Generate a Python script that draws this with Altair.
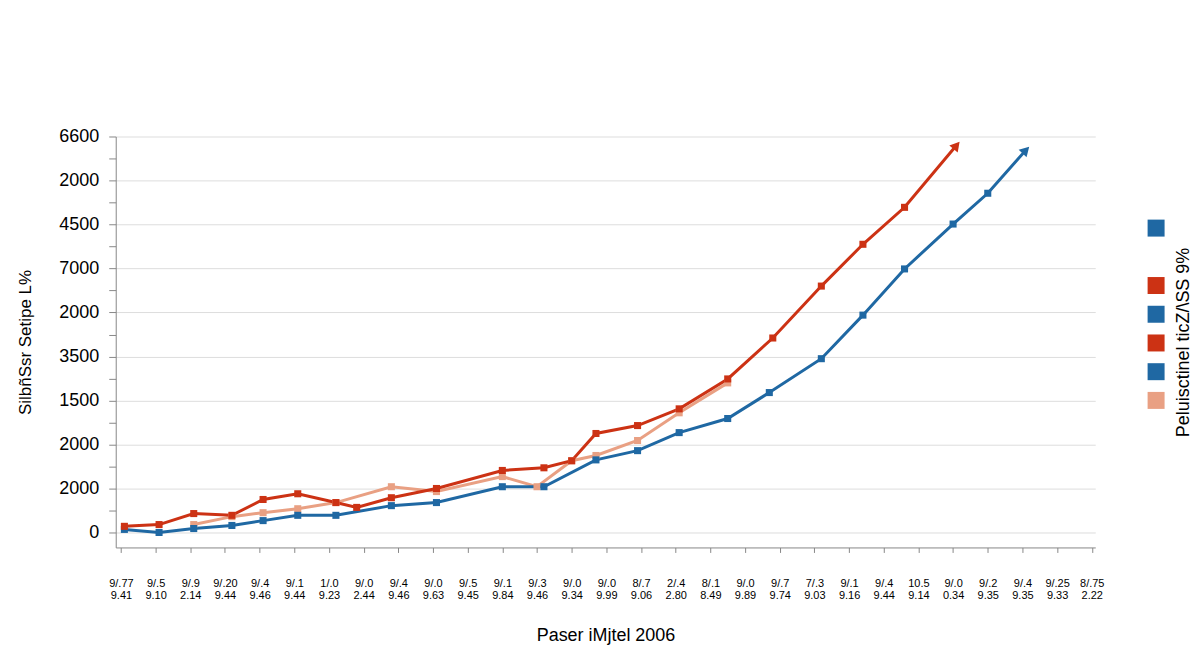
import altair as alt
import pandas as pd

# ---------------- data ----------------
series_names = ["Serie A", "Serie B", "Serie C"]          # blue, salmon, red
series_colors = ["#1f68a3", "#e9a083", "#cc3214"]

blue_x = [0.1, 1.1, 2.1, 3.2, 4.1, 5.1, 6.2, 7.8, 9.1, 11.0, 12.2, 13.7, 14.9, 16.1, 17.5, 18.7, 20.2, 21.4, 22.6, 24.0, 25.0, 26.1]
blue_y = [70, 0, 90, 160, 270, 390, 390, 610, 680, 1040, 1040, 1650, 1860, 2270, 2590, 3180, 3950, 4940, 5990, 7010, 7710, 8690]

red_x = [0.1, 1.1, 2.1, 3.2, 4.1, 5.1, 6.2, 6.8, 7.8, 9.1, 11.0, 12.2, 13.0, 13.7, 14.9, 16.1, 17.5, 18.8, 20.2, 21.4, 22.6, 24.1]
red_y = [140, 180, 430, 390, 750, 880, 680, 570, 790, 1000, 1410, 1470, 1630, 2250, 2430, 2810, 3490, 4420, 5600, 6550, 7390, 8800]

salmon_x = [2.1, 3.2, 4.1, 5.1, 6.2, 7.8, 9.1, 11.0, 12.0, 13.0, 13.7, 14.9, 16.1, 17.5]
salmon_y = [180, 360, 450, 540, 680, 1040, 930, 1270, 1040, 1630, 1750, 2090, 2720, 3400]

arrow_angle = {"Serie A": 44, "Serie C": 40}

y_tick_labels = ["0", "2000", "2000", "1500", "3500", "2000", "7000", "4500", "2000", "6600"]

x_top = ["9/.77", "9/.5", "9/.9", "9/.20", "9/.4", "9/.1", "1/.0", "9/.0", "9/.4", "9/.0",
         "9/.5", "9/.1", "9/.3", "9/.0", "9/.0", "8/.7", "2/.4", "8/.1", "9/.0", "9/.7",
         "7/.3", "9/.1", "9/.4", "10.5", "9/.0", "9/.2", "9/.4", "9/.25", "8/.75"]
x_bot = ["9.41", "9.10", "2.14", "9.44", "9.46", "9.44", "9.23", "2.44", "9.46", "9.63",
         "9.45", "9.84", "9.46", "9.34", "9.99", "9.06", "2.80", "8.49", "9.89", "9.74",
         "9.03", "9.16", "9.44", "9.14", "0.34", "9.35", "9.35", "9.33", "2.22"]

legend_series = ["Serie A", "Serie C", "Serie A", "Serie C", "Serie A", "Serie B"]
legend_slot = [0, 2, 3, 4, 5, 6]

y_title = "SilbñSsr Setipe L%"
x_title = "Paser iMjtel 2006"
legend_title = "Peluisctinel ticZ/\\SS 9%"

# ---------------- frames ----------------
rows = []
for name, xs, ys in [("Serie B", salmon_x, salmon_y), ("Serie A", blue_x, blue_y), ("Serie C", red_x, red_y)]:
    n = len(xs)
    for i, (xv, yv) in enumerate(zip(xs, ys)):
        is_arrow = (i == n - 1) and name in arrow_angle
        rows.append({"series": name, "x": xv, "y": yv, "order": i,
                     "arrow": is_arrow, "angle": arrow_angle.get(name, 0)})
df = pd.DataFrame(rows)

legend_df = pd.DataFrame({"series": legend_series, "slot": legend_slot})

FONT = "Liberation Sans"
color_scale = alt.Scale(domain=series_names, range=series_colors)

y_expr = ("datum.value % 1000 == 0 ? [" + ",".join(f"'{s}'" for s in y_tick_labels)
          + "][round(datum.value/1000)] : ''")
x_expr = ("[[" + ",".join(f"'{s}'" for s in x_top) + "][datum.value], ["
          + ",".join(f"'{s}'" for s in x_bot) + "][datum.value]]")

x_axis = alt.Axis(values=list(range(len(x_top))), labelExpr=x_expr, grid=False,
                  title=x_title, titleFontSize=18, titleFontWeight="normal",
                  titlePadding=26, labelFontSize=11, labelLineHeight=12,
                  labelPadding=25, tickSize=5, labelOverlap=False, labelFlush=False,
                  labelAngle=0, labelBound=False)
y_axis = alt.Axis(values=[i * 500 for i in range(19)], labelExpr=y_expr,
                  gridOpacity={"condition": {"test": "datum.value % 1000 != 0", "value": 0}, "value": 1},
                  title=y_title, titleFontSize=17, titleFontWeight="normal",
                  titlePadding=24, labelFontSize=18, labelPadding=10, tickSize=7,
                  labelOverlap=False, labelFlush=False)
x_scale = alt.Scale(domain=[-0.15, 28.1], nice=False, zero=False)
y_scale = alt.Scale(domain=[-340, 9000], nice=False, zero=False)

x_enc = alt.X("x:Q", scale=x_scale, axis=x_axis)
y_enc = alt.Y("y:Q", scale=y_scale, axis=y_axis)
col = alt.Color("series:N", scale=color_scale, legend=None)

base = alt.Chart(df)
lines = base.mark_line(strokeWidth=3).encode(x=x_enc, y=y_enc, color=col, detail="series:N",
                                             order="order:Q")
squares = base.transform_filter("!datum.arrow").mark_square(size=50, opacity=1).encode(
    x=x_enc, y=y_enc, color=col)
arrows = base.transform_filter("datum.arrow").mark_point(
    shape="triangle-up", filled=True, size=120, opacity=1).encode(
    x=x_enc, y=y_enc, color=col, angle=alt.Angle("angle:Q", scale=None))

main = alt.layer(lines, squares, arrows).properties(
    width=982, height=412, view=alt.ViewBackground(strokeOpacity=0, strokeWidth=0))

legend = alt.Chart(legend_df).mark_square(size=290, opacity=1).encode(
    y=alt.Y("slot:Q", scale=alt.Scale(domain=[-3.19, 11.12], reverse=True, nice=False, zero=False),
            axis=alt.Axis(orient="right", title=legend_title, titleAngle=270, labels=False,
                          ticks=False, domain=False, grid=False, titleFontSize=18,
                          titleFontWeight="normal", titlePadding=26)),
    color=alt.Color("series:N", scale=color_scale, legend=None),
).properties(width=20, height=412,
             view=alt.ViewBackground(strokeOpacity=0, strokeWidth=0, fill="white"))

chart = alt.hconcat(main, legend, spacing=42).properties(
    padding={"left": 8, "top": 119, "right": 0, "bottom": 5}
).configure_view(strokeWidth=0, strokeOpacity=0).configure_axis(
    labelFont=FONT, titleFont=FONT, labelColor="#222", titleColor="#222",
    domainColor="#8a8a8a", tickColor="#9a9a9a", gridColor="#d0d0d0", gridWidth=1.5,
    domainWidth=1.2,
).configure(background="white")

chart.save("out.html", embed_options={"renderer": "svg", "actions": False})
